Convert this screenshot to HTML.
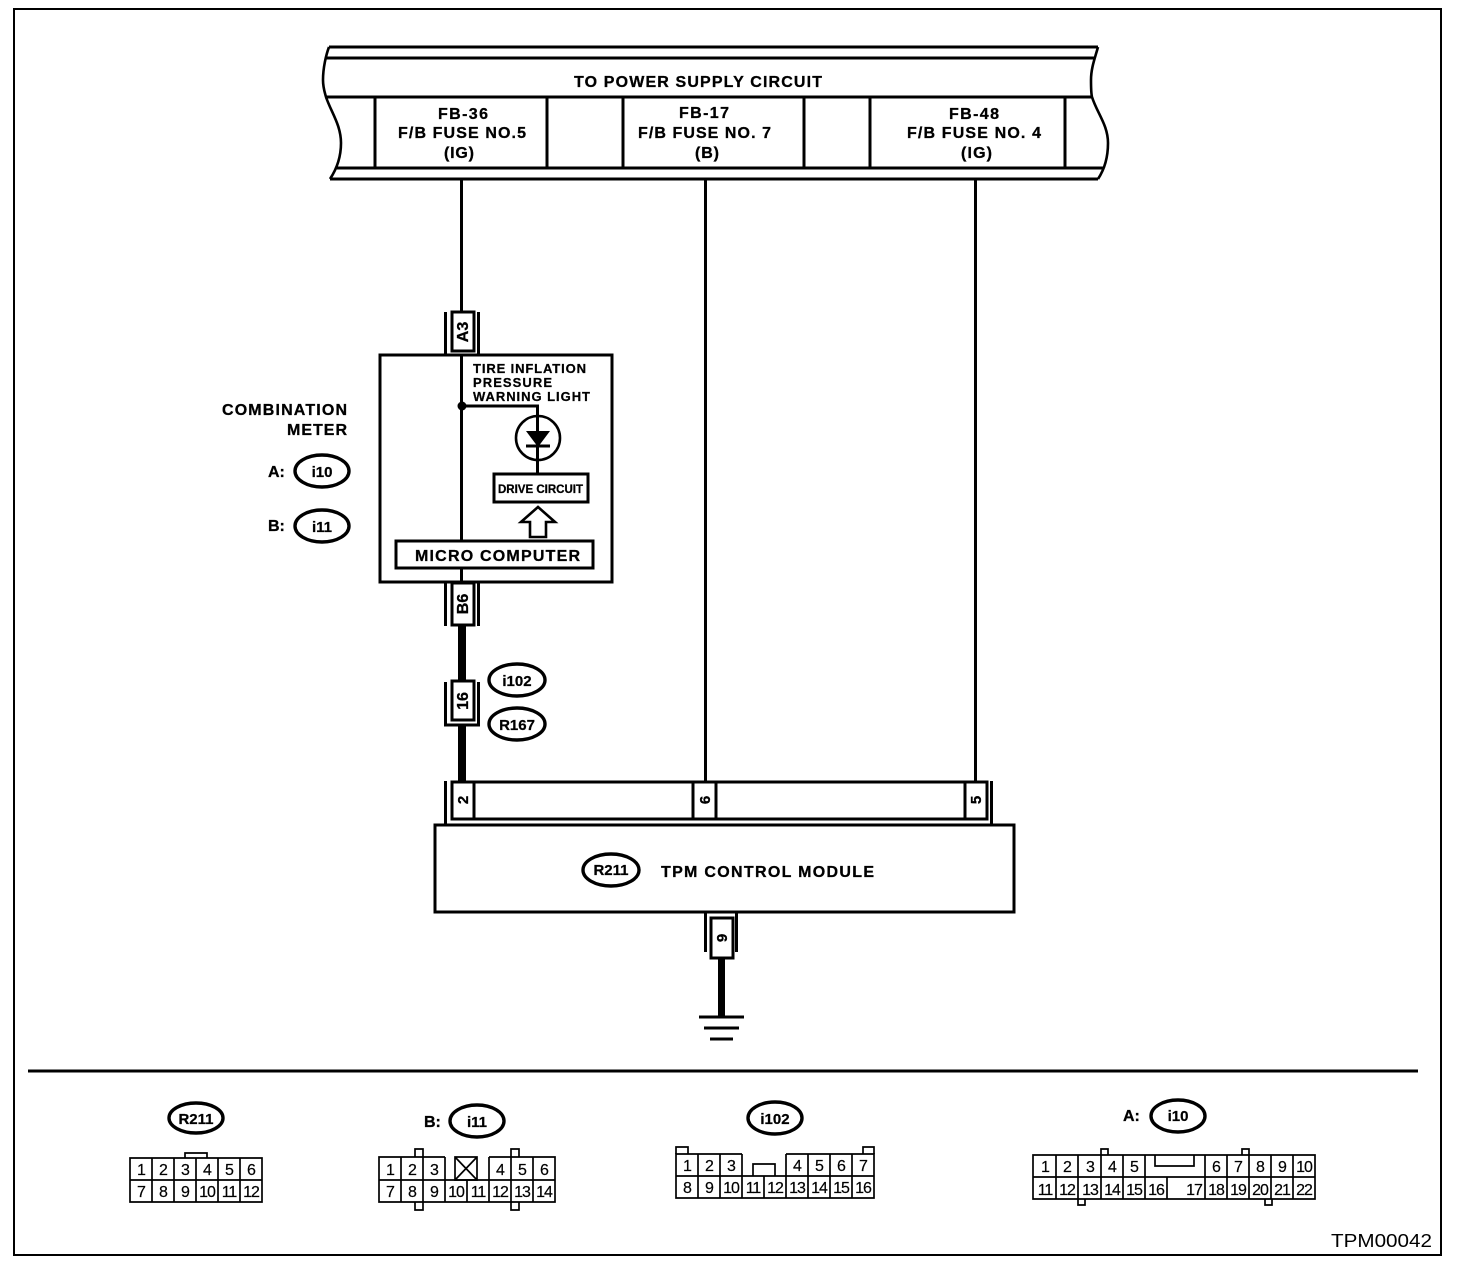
<!DOCTYPE html>
<html>
<head>
<meta charset="utf-8">
<style>
html,body{margin:0;padding:0;background:#fff;}
svg{display:block;}
text{font-family:"Liberation Sans",sans-serif;fill:#000;}
.b{font-weight:bold;stroke:#000;stroke-width:.3;}
.h{font-weight:bold;font-size:16px;stroke:#000;stroke-width:.3;}
.s{font-weight:bold;font-size:13px;stroke:#000;stroke-width:.25;}
.o{font-weight:bold;font-size:15px;text-anchor:middle;stroke:#000;stroke-width:.25;}
.n{font-size:16px;text-anchor:middle;letter-spacing:-1px;stroke:#000;stroke-width:.2;}
.l2{stroke:#000;stroke-width:2;fill:none;shape-rendering:crispEdges;}
.l3{stroke:#000;stroke-width:3;fill:none;shape-rendering:crispEdges;}
.t{stroke:#000;stroke-width:1.7;fill:none;}
.c{stroke:#000;stroke-width:2.6;fill:none;}
.e{stroke:#000;stroke-width:3.4;fill:#fff;}
</style>
</head>
<body>
<svg xmlns="http://www.w3.org/2000/svg" width="1472" height="1278" viewBox="0 0 1472 1278">
<rect width="1472" height="1278" fill="#fff"/>
<rect class="l2" x="14" y="9" width="1427" height="1246"/>

<!-- header -->
<path class="l3" d="M329 47H1098M326 58H1094M325 97H1092M336 168H1103M330 179H1098"/>
<path class="c" d="M329 47C326 55 323 68 323 80C323 88 325 93 326 97C331 112 341 125 341 143C341 158 336 170 330 179"/>
<path class="c" d="M1098 47C1095 58 1091 68 1091 80C1091 88 1091 93 1092 97C1097 113 1108 125 1108 143C1108 158 1104 170 1098 179"/>
<path class="l3" d="M375 97V168M547 97V168M623 97V168M804 97V168M870 97V168M1065 97V168"/>
<text class="h" x="574" y="87" textLength="248" lengthAdjust="spacing">TO POWER SUPPLY CIRCUIT</text>
<text class="h" x="438" y="119" textLength="50" lengthAdjust="spacing">FB-36</text>
<text class="h" x="398" y="138" textLength="128" lengthAdjust="spacing">F/B FUSE NO.5</text>
<text class="h" x="444" y="158" textLength="30" lengthAdjust="spacing">(IG)</text>
<text class="h" x="679" y="118" textLength="50" lengthAdjust="spacing">FB-17</text>
<text class="h" x="638" y="138" textLength="133" lengthAdjust="spacing">F/B FUSE NO. 7</text>
<text class="h" x="695" y="158" textLength="24" lengthAdjust="spacing">(B)</text>
<text class="h" x="949" y="119" textLength="50" lengthAdjust="spacing">FB-48</text>
<text class="h" x="907" y="138" textLength="134" lengthAdjust="spacing">F/B FUSE NO. 4</text>
<text class="h" x="961" y="158" textLength="31" lengthAdjust="spacing">(IG)</text>

<!-- wires -->
<path class="l3" d="M461.5 180V311M705.5 180V781M975.5 180V781"/>

<!-- A3 connector -->
<path class="l3" d="M445.5 312V354M478.5 312V354"/>
<rect class="l3" x="452" y="312" width="22" height="39" fill="#fff"/>
<text class="b" font-size="16" text-anchor="middle" transform="translate(468,332) rotate(-90)">A3</text>

<!-- combination meter -->
<rect class="l3" x="380" y="355" width="232" height="227"/>
<path class="l3" d="M461.5 355V540M461.5 568V582M461.5 406H537.5V473"/>
<circle cx="462" cy="406" r="4.5" fill="#000"/>
<circle class="c" cx="538" cy="438" r="22"/>
<path d="M526 431H550L538 447Z" fill="#000"/>
<path class="l3" d="M526 446H550"/>
<text class="s" x="473" y="373" textLength="113" lengthAdjust="spacing">TIRE INFLATION</text>
<text class="s" x="473" y="387" textLength="79" lengthAdjust="spacing">PRESSURE</text>
<text class="s" x="473" y="401" textLength="117" lengthAdjust="spacing">WARNING LIGHT</text>
<rect class="l3" x="494" y="474" width="94" height="28"/>
<text class="b" font-size="12" x="498" y="493" textLength="85" lengthAdjust="spacingAndGlyphs">DRIVE CIRCUIT</text>
<path class="c" d="M538 507L555 522H546V537H530V522H521Z"/>
<rect class="l3" x="396" y="541" width="197" height="27"/>
<text class="h" x="415" y="561" textLength="165" lengthAdjust="spacing">MICRO COMPUTER</text>

<text class="h" x="222" y="415" textLength="125" lengthAdjust="spacing">COMBINATION</text>
<text class="h" x="287" y="435" textLength="60" lengthAdjust="spacing">METER</text>
<text class="h" x="268" y="477">A:</text>
<ellipse class="e" cx="322" cy="471" rx="27" ry="16"/>
<text class="o" x="322" y="477">i10</text>
<text class="h" x="268" y="531">B:</text>
<ellipse class="e" cx="322" cy="526" rx="27" ry="16"/>
<text class="o" x="322" y="532">i11</text>

<!-- B6 connector -->
<path class="l3" d="M445.5 583V626M478.5 583V626"/>
<rect class="l3" x="452" y="583" width="22" height="42" fill="#fff"/>
<text class="b" font-size="16" text-anchor="middle" transform="translate(468,604) rotate(-90)">B6</text>
<rect x="458" y="625" width="8" height="56" fill="#000"/>

<!-- 16 connector -->
<path class="l3" d="M445.5 682V725H478.5V682"/>
<rect class="l3" x="452" y="681" width="22" height="39" fill="#fff"/>
<text class="b" font-size="16" text-anchor="middle" transform="translate(468,701) rotate(-90)">16</text>
<rect x="458" y="725" width="8" height="56" fill="#000"/>
<ellipse class="e" cx="517" cy="680" rx="28" ry="16"/>
<text class="o" x="517" y="686">i102</text>
<ellipse class="e" cx="517" cy="724" rx="28" ry="16"/>
<text class="o" x="517" y="730">R167</text>

<!-- module connector -->
<path class="l3" d="M445.5 781V824M991.5 781V824"/>
<rect class="l3" x="452" y="782" width="535" height="37"/>
<path class="l3" d="M474 782V819M693 782V819M716 782V819M965 782V819"/>
<text class="b" font-size="15" text-anchor="middle" transform="translate(468,800) rotate(-90)">2</text>
<text class="b" font-size="15" text-anchor="middle" transform="translate(710,800) rotate(-90)">6</text>
<text class="b" font-size="15" text-anchor="middle" transform="translate(981,800) rotate(-90)">5</text>

<!-- module -->
<rect class="l3" x="435" y="825" width="579" height="87"/>
<ellipse class="e" cx="611" cy="870" rx="28" ry="16"/>
<text class="o" x="611" y="875">R211</text>
<text class="h" x="661" y="877" textLength="213" lengthAdjust="spacing">TPM CONTROL MODULE</text>

<!-- pin 9 and ground -->
<path class="l3" d="M705.5 913V952M736.5 913V952"/>
<rect class="l3" x="711" y="918" width="22" height="40" fill="#fff"/>
<text class="b" font-size="15" text-anchor="middle" transform="translate(727,938) rotate(-90)">9</text>
<rect x="718" y="958" width="7" height="59" fill="#000"/>
<path class="l3" d="M699 1017H744M704 1028H739M710 1039H733"/>

<path class="l3" d="M28 1071H1418"/>

<!-- R211 connector -->
<ellipse class="e" cx="196" cy="1118" rx="27" ry="15"/>
<text class="o" x="196" y="1124">R211</text>
<path class="t" d="M130 1158H262V1202H130ZM130 1180H262M152 1158V1202M174 1158V1202M196 1158V1202M218 1158V1202M240 1158V1202M185 1158V1153H207V1158"/>
<text class="n" x="141" y="1175">1</text><text class="n" x="163" y="1175">2</text><text class="n" x="185" y="1175">3</text><text class="n" x="207" y="1175">4</text><text class="n" x="229" y="1175">5</text><text class="n" x="251" y="1175">6</text>
<text class="n" x="141" y="1197">7</text><text class="n" x="163" y="1197">8</text><text class="n" x="185" y="1197">9</text><text class="n" x="207" y="1197">10</text><text class="n" x="229" y="1197">11</text><text class="n" x="251" y="1197">12</text>

<!-- i11 connector -->
<text class="h" x="424" y="1127">B:</text>
<ellipse class="e" cx="477" cy="1121" rx="27" ry="16"/>
<text class="o" x="477" y="1127">i11</text>
<path class="t" d="M445 1157H379V1202H555V1157H489M379 1180H555M401 1157V1202M423 1157V1202M445 1157V1202M467 1180V1202M489 1157V1202M511 1157V1202M533 1157V1202"/>
<path class="t" d="M455 1157H477V1180H455ZM455 1157L477 1180M477 1157L455 1180"/>
<path class="t" d="M415 1157V1149H423V1157M415 1202V1210H423V1202M511 1157V1149H519V1157M511 1202V1210H519V1202"/>
<text class="n" x="390" y="1175">1</text><text class="n" x="412" y="1175">2</text><text class="n" x="434" y="1175">3</text><text class="n" x="500" y="1175">4</text><text class="n" x="522" y="1175">5</text><text class="n" x="544" y="1175">6</text>
<text class="n" x="390" y="1197">7</text><text class="n" x="412" y="1197">8</text><text class="n" x="434" y="1197">9</text><text class="n" x="456" y="1197">10</text><text class="n" x="478" y="1197">11</text><text class="n" x="500" y="1197">12</text><text class="n" x="522" y="1197">13</text><text class="n" x="544" y="1197">14</text>

<!-- i102 connector -->
<ellipse class="e" cx="775" cy="1118" rx="27" ry="16"/>
<text class="o" x="775" y="1124">i102</text>
<path class="t" d="M742 1154H676V1198H874V1154H786M676 1176H874M698 1154V1198M720 1154V1198M742 1154V1198M764 1176V1198M786 1154V1198M808 1154V1198M830 1154V1198M852 1154V1198"/>
<path class="t" d="M676 1154V1147H688V1154M863 1154V1147H874V1154M753 1176V1164H775V1176"/>
<text class="n" x="687" y="1171">1</text><text class="n" x="709" y="1171">2</text><text class="n" x="731" y="1171">3</text><text class="n" x="797" y="1171">4</text><text class="n" x="819" y="1171">5</text><text class="n" x="841" y="1171">6</text><text class="n" x="863" y="1171">7</text>
<text class="n" x="687" y="1193">8</text><text class="n" x="709" y="1193">9</text><text class="n" x="731" y="1193">10</text><text class="n" x="753" y="1193">11</text><text class="n" x="775" y="1193">12</text><text class="n" x="797" y="1193">13</text><text class="n" x="819" y="1193">14</text><text class="n" x="841" y="1193">15</text><text class="n" x="863" y="1193">16</text>

<!-- i10 connector -->
<text class="h" x="1123" y="1121">A:</text>
<ellipse class="e" cx="1178" cy="1116" rx="27" ry="16"/>
<text class="o" x="1178" y="1121">i10</text>
<path class="t" d="M1033 1155H1315V1199H1033ZM1033 1177H1315M1056 1155V1199M1078 1155V1199M1101 1155V1199M1123 1155V1199M1145 1155V1199M1167 1177V1199M1205 1155V1199M1227 1155V1199M1249 1155V1199M1271 1155V1199M1293 1155V1199"/>
<path class="t" d="M1155 1155V1166H1194V1155"/>
<path class="t" d="M1101 1155V1149H1108V1155M1242 1155V1149H1249V1155M1078 1199V1205H1085V1199M1265 1199V1205H1272V1199"/>
<text class="n" x="1045" y="1172">1</text><text class="n" x="1067" y="1172">2</text><text class="n" x="1090" y="1172">3</text><text class="n" x="1112" y="1172">4</text><text class="n" x="1134" y="1172">5</text><text class="n" x="1216" y="1172">6</text><text class="n" x="1238" y="1172">7</text><text class="n" x="1260" y="1172">8</text><text class="n" x="1282" y="1172">9</text><text class="n" x="1304" y="1172">10</text>
<text class="n" x="1045" y="1195">11</text><text class="n" x="1067" y="1195">12</text><text class="n" x="1090" y="1195">13</text><text class="n" x="1112" y="1195">14</text><text class="n" x="1134" y="1195">15</text><text class="n" x="1156" y="1195">16</text><text class="n" x="1194" y="1195">17</text><text class="n" x="1216" y="1195">18</text><text class="n" x="1238" y="1195">19</text><text class="n" x="1260" y="1195">20</text><text class="n" x="1282" y="1195">21</text><text class="n" x="1304" y="1195">22</text>

<text font-size="18" x="1331" y="1247" textLength="101" lengthAdjust="spacingAndGlyphs">TPM00042</text>
</svg>
</body>
</html>
